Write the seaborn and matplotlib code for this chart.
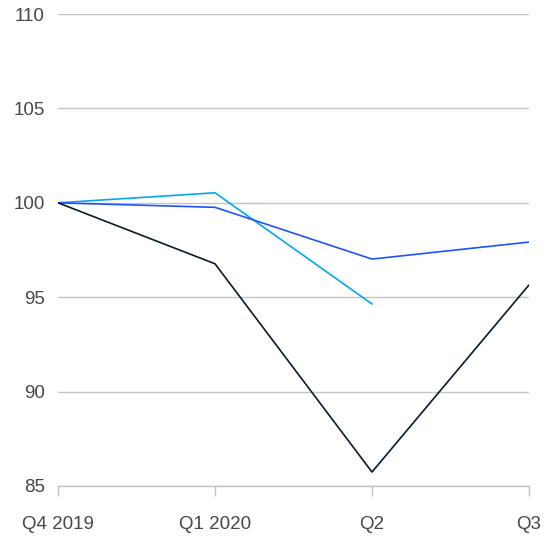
import matplotlib
matplotlib.use("Agg")
import matplotlib.pyplot as plt
import seaborn as sns
import pandas as pd
import numpy as np

quarters = ["Q4 2019", "Q1 2020", "Q2", "Q3"]
series_dark = [100.0, 96.77, 85.74, 95.65]
series_blue = [100.0, 99.76, 97.02, 97.92]
series_light = [100.0, 100.53, 94.64, np.nan]
y_ticks = [85, 90, 95, 100, 105, 110]

names = ["dark", "blue", "light"]
palette = {"dark": "#051C2C", "blue": "#2251FF", "light": "#00A9F4"}

frames = []
for name, vals in zip(names, [series_dark, series_blue, series_light]):
    frames.append(pd.DataFrame({"pos": range(len(quarters)), "value": vals, "series": name}))
df = pd.concat(frames, ignore_index=True).dropna()

sns.set_theme(style="white")
plt.rcParams["font.family"] = ["Liberation Sans", "DejaVu Sans"]

fig = plt.figure(figsize=(5.6, 5.37), dpi=100)
ax = fig.add_axes([58 / 560, 1 - 486 / 537, (529 - 58) / 560, (486 - 14) / 537])

sns.lineplot(data=df, x="pos", y="value", hue="series", palette=palette,
             hue_order=["light", "blue", "dark"], linewidth=1.2, ax=ax,
             legend=False, sort=False, estimator=None)

grid_color = "#C4C4C4"
text_color = "#474747"
ax.set_xlim(0, len(quarters) - 1)
ax.set_ylim(85, 110)
ax.set_yticks(y_ticks)
ax.set_xticks(range(len(quarters)))
ax.set_xticklabels(quarters)
ax.yaxis.grid(True, color=grid_color, linewidth=1.0)
ax.set_axisbelow(True)
for side in ["left", "right", "top"]:
    ax.spines[side].set_visible(False)
ax.spines["bottom"].set_color(grid_color)
ax.spines["bottom"].set_linewidth(1.0)
ax.tick_params(axis="y", length=0, pad=9.5, labelsize=13.5, labelcolor=text_color)
ax.tick_params(axis="x", length=7.5, width=1.0, color=grid_color, pad=14,
               labelsize=13.5, labelcolor=text_color, bottom=True)
ax.set_xlabel("")
ax.set_ylabel("")

fig.savefig("out.png", dpi=100)
